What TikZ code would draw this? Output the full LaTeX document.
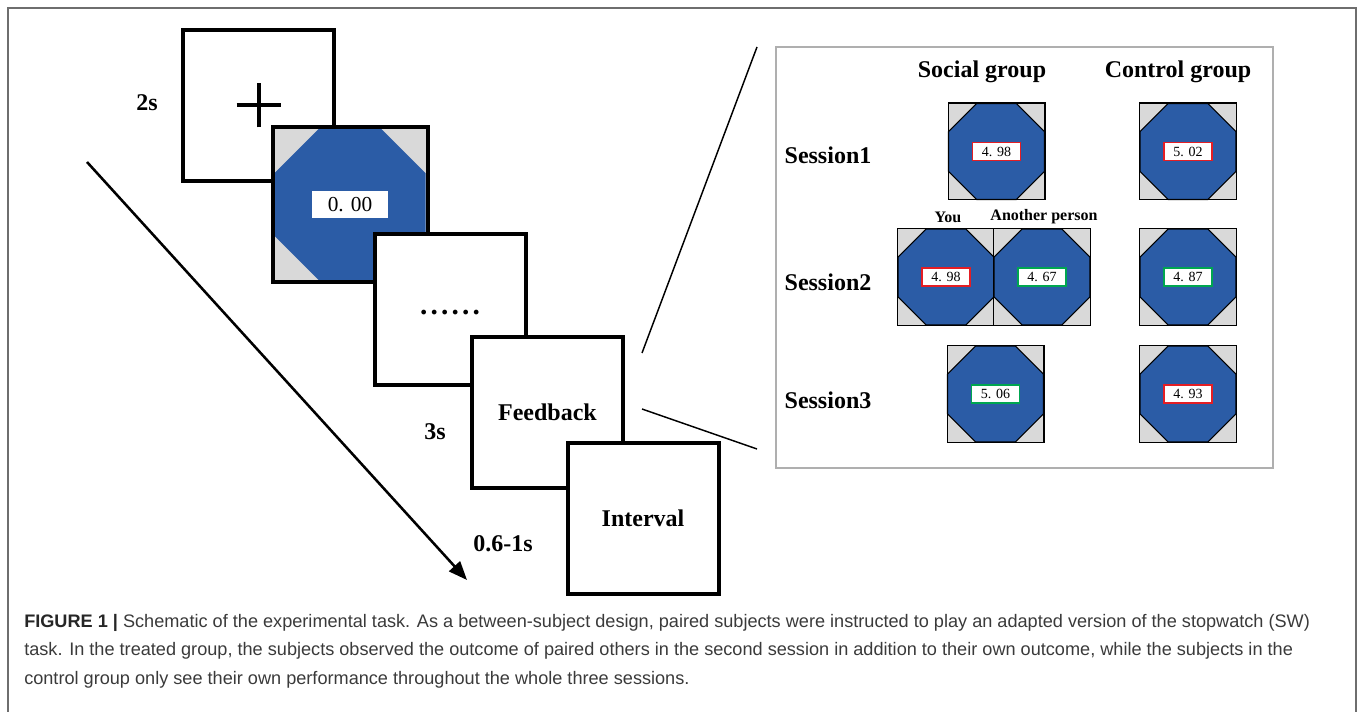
\documentclass[tikz,border=0pt]{standalone}
\usepackage{fontspec}
\setmainfont{Liberation Serif}
\newfontfamily\capfont{Liberation Sans}
\usetikzlibrary{arrows.meta}
\definecolor{swblue}{RGB}{43,92,166}
\definecolor{swgray}{RGB}{217,217,217}
\definecolor{swred}{RGB}{228,30,36}
\definecolor{swgreen}{RGB}{0,166,80}
\definecolor{capgray}{RGB}{58,58,58}
\definecolor{framegray}{RGB}{110,110,110}
\definecolor{panelgray}{RGB}{175,175,175}

\newcommand\octa[4]{%
  \path[#4] ({#1-0.4142*#3},{#2-#3}) -- ({#1+0.4142*#3},{#2-#3}) -- ({#1+#3},{#2-0.4142*#3}) -- ({#1+#3},{#2+0.4142*#3}) -- ({#1+0.4142*#3},{#2+#3}) -- ({#1-0.4142*#3},{#2+#3}) -- ({#1-#3},{#2+0.4142*#3}) -- ({#1-#3},{#2-0.4142*#3}) -- cycle;}

\newcommand\smallsw[5]{%
  \node[smallbox] (#1) at (#2,#3) {};
  \octa{#2}{#3}{48}{fill=swblue, draw=black, line width=0.9pt}
  \draw[line width=1.1pt] (#1.north west) rectangle (#1.south east);
  \node[valbox, draw=#5] (#1v) at (#1) {#4};}

\begin{document}
\begin{tikzpicture}[x=0.75pt,y=-0.75pt,
  bigbox/.style={draw=black, line width=3pt, fill=white, minimum size=113.25pt, inner sep=0pt},
  smallbox/.style={fill=swgray, minimum size=72pt, inner sep=0pt},
  valbox/.style={fill=white, line width=1.4pt, minimum width=36pt, minimum height=13.5pt, inner sep=0pt, font=\fontsize{10.5}{10.5}\selectfont},
  lbl/.style={font=\fontsize{18}{20}\selectfont\bfseries},
  sublbl/.style={font=\fontsize{12}{14}\selectfont\bfseries},
  caption/.style={anchor=base west, inner sep=0pt, font=\capfont\fontsize{13.6}{15}\selectfont, text=capgray}
]
\useasboundingbox (0,0) rectangle (1357,712);
% outer frame
\draw[framegray, line width=1.1pt] (8,712) -- (8,8) -- (1356,8) -- (1356,712);

% ---------- time line ----------
\node[bigbox] (b1) at (258.5,105.5) {};
\draw[line width=3pt] ([xshift=-16.5pt]b1.center) -- ([xshift=16.5pt]b1.center);
\draw[line width=3pt] ([yshift=-16.5pt]b1.center) -- ([yshift=16.5pt]b1.center);

\node[bigbox, draw=none, fill=swgray] (b2) at (350,204.5) {};
\octa{350}{204.5}{75.5}{fill=swblue}
\draw[line width=3pt] (b2.north west) rectangle (b2.south east);
\node[fill=white, minimum width=57pt, minimum height=20pt, inner sep=0pt, font=\fontsize{16}{16}\selectfont] (b2v) at (b2) {0.\,\,00};

\node[bigbox] (b3) at (450,310) {};
\node[font=\fontsize{22}{22}\selectfont\bfseries] (dots) at ([yshift=-2pt]b3.center) {.\kern2.4pt.\kern2.4pt.\kern2.4pt.\kern2.4pt.\kern2.4pt.};

\node[bigbox, lbl] (b4) at (547.5,412.5) {Feedback};
\node[bigbox, lbl] (b5) at (643,518.5) {Interval};

\node[lbl] (t1) at (147,103) {2s};
\node[lbl] (t2) at (435,432) {3s};
\node[lbl] (t3) at (503,544) {0.6-1s};

\coordinate (as) at (87,162);
\coordinate (ae) at (467,580);
\draw[line width=1.9pt, -{Triangle[length=14pt, width=11pt]}] (as) -- (ae);

% ---------- zoom panel ----------
\node[draw=panelgray, line width=1.1pt, minimum width=372.75pt, minimum height=315.75pt, inner sep=0pt] (panel) at (1024.5,257.5) {};
\coordinate (z1) at (757,47);
\coordinate (z2) at (642,353);
\coordinate (z3) at (642,409);
\coordinate (z4) at (757,449);
\draw[line width=1.1pt] (z1) -- (z2);
\draw[line width=1.1pt] (z3) -- (z4);

\node[lbl] (hs) at (982,72) {Social group};
\node[lbl] (hc) at (1178,72) {Control group};
\node[lbl] (s1) at (828,155) {Session1};
\node[lbl] (s2) at (828,282) {Session2};
\node[lbl] (s3) at (828,400) {Session3};
\node[sublbl] (you) at (948,217) {You};
\node[sublbl] (other) at (1044,217) {Another person};

\smallsw{w1s}{996.5}{151.5}{4.\,\,98}{swred}
\smallsw{w1c}{1188}{151.5}{5.\,\,02}{swred}
\smallsw{w2y}{946}{277}{4.\,\,98}{swred}
\smallsw{w2o}{1042}{277}{4.\,\,67}{swgreen}
\smallsw{w2c}{1188}{277}{4.\,\,87}{swgreen}
\smallsw{w3s}{995.5}{394}{5.\,\,06}{swgreen}
\smallsw{w3c}{1188}{394}{4.\,\,93}{swred}

% ---------- caption ----------
\node[caption] (c1) at (24,628) {{\color{black!85}\bfseries FIGURE 1 |} Schematic of the experimental task. As a between-subject design, paired subjects were instructed to play an adapted version of the stopwatch (SW)};
\node[caption] (c2) at (24,656) {task. In the treated group, the subjects observed the outcome of paired others in the second session in addition to their own outcome, while the subjects in the};
\node[caption] (c3) at (24,684) {control group only see their own performance throughout the whole three sessions.};
\end{tikzpicture}
\end{document}
